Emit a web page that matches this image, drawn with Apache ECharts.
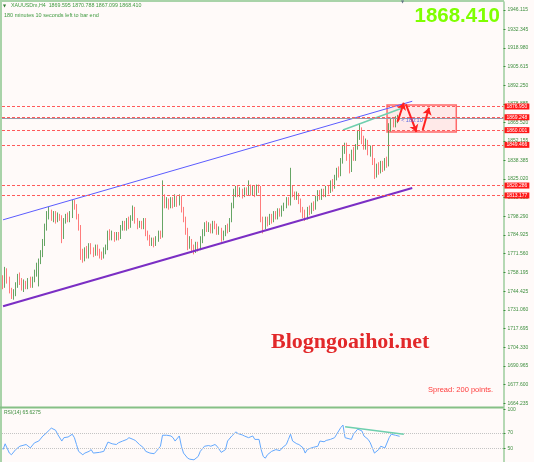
<!DOCTYPE html>
<html><head><meta charset="utf-8">
<script src="https://cdn.jsdelivr.net/npm/echarts@6/dist/echarts.min.js"></script>
<style>html,body{margin:0;padding:0;background:#fffaf9;}#c{width:534px;height:462px;}</style>
</head><body><div id="c"></div>
<script>
// ---- DATA (XAUUSDm, H4) ----
const opens = [1752,1749,1758,1753,1745,1741,1743,1749,1755,1752,
1747,1750,1748,1752,1749,1753,1758,1762,1766,1771,
1779,1790,1799,1801,1797,1800,1796,1799,1797,1784,
1795,1798,1796,1799,1807,1805,1798,1790,1772,1768,
1774,1770,1777,1774,1772,1776,1773,1771,1769,1774,
1776,1786,1783,1786,1782,1785,1783,1790,1793,1790,
1795,1792,1797,1803,1795,1791,1793,1791,1796,1786,
1783,1779,1781,1778,1782,1786,1784,1810,1806,1809,
1806,1810,1806,1811,1808,1812,1803,1796,1788,1777,
1780,1775,1773,1778,1776,1782,1786,1792,1789,1791,
1788,1793,1791,1787,1789,1782,1786,1790,1788,1795,
1806,1815,1818,1814,1816,1813,1817,1815,1819,1815,
1818,1814,1819,1817,1796,1792,1796,1793,1798,1796,
1800,1798,1802,1800,1804,1806,1810,1808,1818,1814,
1812,1814,1809,1803,1800,1798,1803,1801,1806,1804,
1811,1815,1812,1816,1814,1818,1816,1822,1819,1826,
1831,1829,1838,1846,1849,1841,1832,1844,1840,1848,
1856,1858,1853,1849,1851,1845,1847,1838,1828,1834,
1831,1836,1833,1838,1836,1862,1866,1864,1867,1869.595];
const closes = [1749,1758,1753,1745,1741,1743,1749,1755,1752,1747,
1750,1748,1752,1749,1753,1758,1762,1766,1771,1779,
1790,1799,1801,1797,1800,1796,1799,1797,1784,1795,
1798,1796,1799,1807,1805,1798,1790,1772,1768,1774,
1770,1777,1774,1772,1776,1773,1771,1769,1774,1776,
1786,1783,1786,1782,1785,1783,1790,1793,1790,1795,
1792,1797,1803,1795,1791,1793,1791,1796,1786,1783,
1779,1781,1778,1782,1786,1784,1810,1806,1809,1806,
1810,1806,1811,1808,1812,1803,1796,1788,1777,1780,
1775,1773,1778,1776,1782,1786,1792,1789,1791,1788,
1793,1791,1787,1789,1782,1786,1790,1788,1795,1806,
1815,1818,1814,1816,1813,1817,1815,1819,1815,1818,
1814,1819,1817,1796,1792,1796,1793,1798,1796,1800,
1798,1802,1800,1804,1806,1810,1808,1818,1814,1812,
1814,1809,1803,1800,1798,1803,1801,1806,1804,1811,
1815,1812,1816,1814,1818,1816,1822,1819,1826,1831,
1829,1838,1846,1849,1841,1832,1844,1840,1848,1856,
1858,1853,1849,1851,1845,1847,1838,1828,1834,1831,
1836,1833,1838,1836,1862,1866,1864,1867,1869.6,1868.41];
const lows = [1746,1747,1750,1743,1739,1738.5,1741,1747,1749,1745,
1744,1746,1746,1747,1747,1751,1755,1748,1764,1769,
1777,1788,1796,1795,1794,1793,1794,1795,1779,1782,
1793,1794,1794,1797,1803,1796,1788,1767,1765,1766,
1768,1768,1771,1769,1770,1770,1768,1767,1768,1771,
1774,1781,1781,1780,1781,1781,1782,1788,1788,1788,
1789,1790,1795,1793,1789,1790,1789,1789,1784,1781,
1777,1777,1776,1777,1780,1782,1783,1804,1804,1803,
1804,1804,1805,1805,1806,1801,1794,1785,1774,1775,
1772,1771,1772,1773,1774,1779,1784,1787,1787,1786,
1786,1789,1785,1785,1780,1781,1784,1786,1787,1794,
1804,1812,1812,1812,1811,1812,1813,1813,1813,1813,
1812,1813,1815,1794,1786,1789,1791,1792,1793,1794,
1796,1796,1798,1798,1802,1804,1806,1806,1812,1810,
1810,1807,1801,1797,1795,1796,1799,1800,1802,1803,
1809,1810,1810,1812,1812,1814,1815,1816,1818,1824,
1826,1827,1836,1843,1838,1829,1830,1838,1838,1846,
1853,1850,1846,1846,1842,1841,1835,1825,1826,1828,
1829,1830,1831,1833,1834,1859,1862,1862,1865,1867.099];
const highs = [1756,1762,1761,1755,1747,1746,1751,1757,1758,1754,
1753,1752,1754,1755,1755,1760,1765,1768,1774,1782,
1793,1802,1805,1803,1802,1802,1801,1800,1799,1797,
1800,1801,1802,1810,1810,1807,1800,1792,1775,1776,
1777,1779,1779,1776,1778,1778,1775,1773,1776,1778,
1788,1789,1788,1787,1787,1787,1792,1795,1795,1797,
1798,1799,1806,1805,1797,1795,1795,1797,1797,1788,
1785,1783,1783,1784,1788,1788,1824,1814,1812,1811,
1812,1812,1814,1813,1814,1813,1805,1798,1790,1784,
1782,1778,1780,1780,1784,1789,1794,1795,1794,1793,
1795,1795,1793,1791,1790,1788,1792,1793,1797,1808,
1818,1820,1820,1819,1818,1819,1819,1824,1821,1820,
1820,1821,1821,1820,1798,1798,1798,1800,1800,1802,
1802,1804,1804,1806,1808,1812,1812,1833,1820,1816,
1816,1815,1811,1805,1803,1805,1806,1808,1809,1813,
1817,1817,1818,1818,1820,1820,1824,1825,1828,1833,
1834,1840,1849,1851,1851,1843,1846,1848,1850,1860,
1865,1862,1856,1854,1853,1849,1849,1840,1836,1837,
1838,1838,1840,1841,1865,1869,1869,1870,1871,1870.788];

// RSI(14) read at bar indices
const rsiBar = [0,1,3,4,6,8,11,13,15,17,19,20,22,23,25,26,28,29,31,33,
34,35,36,38,39,41,42,43,46,48,50,52,54,55,57,59,60,62,63,65,
67,68,70,72,73,75,76,78,80,81,82,84,85,86,88,89,91,93,94,96,
98,99,101,102,104,106,107,109,111,112,114,115,117,119,120,122,123,124,125,126,
128,130,132,133,135,136,137,138,140,141,143,144,145,146,148,150,151,153,154,156,
158,159,161,162,163,166,167,169,171,172,174,175,177,179,180,182,184,185,187,189];
const rsiVal = [48.7,56.1,44.3,42.2,48.7,53,55.2,50.9,57.4,59.6,66.1,68.3,73.5,76.1,73.5,68.3,59.6,63.9,64.8,68.3,
63.9,55.2,46.5,42.2,44.3,46.5,48.7,44.3,45.2,46.5,58.3,56.1,55.2,57.4,59.6,61.7,63.9,61.7,60.4,55.2,
50.9,46.5,44.3,43.5,46.5,53,67,67,66.1,63.9,59.6,66.1,53,44.3,37.8,36.5,35.7,40,46.5,53,
53.9,53,55.2,53,45.2,48.7,59.6,66.1,71.3,69.1,67.4,66.1,63.9,66.1,61.7,61.7,48.7,40,37.8,42.2,
46.5,48.7,47.4,50.9,55.2,61.7,68.3,59.6,56.1,55.2,50.9,44.3,48.7,50,51.7,53,59.6,58.7,60.4,61.7,
63.9,68.3,77,80,63.9,61.7,68.3,74.8,72.6,66.1,61.7,57.4,44.3,48.7,53,50.9,63.9,68.3,67,65.63];

const priceTickLabels = ['1664.235','1677.600','1690.965','1704.330','1717.695','1731.060','1744.425','1758.195','1771.560','1784.925','1798.290','1811.655','1825.020','1838.385','1852.155','1865.520','1878.885','1892.250','1905.615','1918.980','1932.345','1946.115'];
const rsiTickLabels = ['50','70','100'];
const levelLines = [1876.950, 1869.248, 1860.001, 1849.466, 1820.286, 1813.177];
const bidPrice = 1868.41;
// channel / trend lines: [barIndex, price]
const upperChannel = [[0, 1795.75], [195, 1880.7]];
const lowerChannel = [[0, 1733.8], [195, 1818.5]];
const priceTrend = [[162, 1860.1], [190, 1875.7]];
const rsiTrend = [[163, 77.8], [191, 68.3]];
const zoneBox = [[183, 1878.0], [216, 1858.7]];
const arrowPaths = [[[188, 1866], [191, 1879.6]], [[192, 1878.4], [197, 1858.8]], [[200, 1860.1], [203, 1876.0]]];

// ---- CHART ----
const SLOTS = 239;
const slots = Array.from({length: SLOTS}, (_, i) => 'b' + i);
const candleData = opens.map((o, i) => [o, closes[i], lows[i], highs[i]]);
const rsiData = rsiBar.map((b, k) => [b, rsiVal[k]]);
const priceTickVals = priceTickLabels.map(Number);
const rsiTickVals = rsiTickLabels.map(Number);
const FONT = 'Liberation Sans';
const axisGreen = '#3f8f3f';

const chart = echarts.init(document.getElementById('c'), null, {renderer: 'canvas', width: 534, height: 462});

const tagLabel = (v) => ({show: true, position: 'end', formatter: v.toFixed(3), color: '#fff', backgroundColor: '#ff1818',
  fontSize: 5, fontFamily: FONT, padding: [1, 2, 0, 2], distance: 1});

const option = {
  animation: false,
  backgroundColor: '#fffaf9',
  grid: [
    {left: 2, right: 30.5, top: 2, height: 405},
    {left: 2, right: 30.5, top: 408, height: 54}
  ],
  xAxis: [
    {type: 'category', data: slots, gridIndex: 0, show: false, boundaryGap: true},
    {type: 'category', data: slots, gridIndex: 1, show: false, boundaryGap: true}
  ],
  yAxis: [
    {type: 'value', gridIndex: 0, position: 'right', min: 1661.58, max: 1951.85, scale: true,
      axisLine: {show: true, lineStyle: {color: '#9ccc9c', width: 1.5}},
      axisTick: {show: true, length: 2, customValues: priceTickVals, lineStyle: {color: axisGreen}},
      axisLabel: {show: true, fontSize: 5, fontFamily: FONT, color: axisGreen, margin: 4, customValues: priceTickVals,
        formatter: (v) => { const k = priceTickVals.indexOf(v); return k >= 0 ? priceTickLabels[k] : v.toFixed(3); }},
      splitLine: {show: false}},
    {type: 'value', gridIndex: 1, position: 'right', min: 32.93, max: 101.7,
      axisLine: {show: true, lineStyle: {color: '#9ccc9c', width: 1.5}},
      axisTick: {show: true, length: 2, customValues: rsiTickVals, lineStyle: {color: axisGreen}},
      axisLabel: {show: true, fontSize: 5, fontFamily: FONT, color: axisGreen, margin: 4, customValues: rsiTickVals,
        formatter: (v) => { const k = rsiTickVals.indexOf(v); return k >= 0 ? rsiTickLabels[k] : String(v); }},
      splitLine: {show: false}}
  ],
  series: [
    {
      type: 'candlestick', name: 'XAUUSDm', xAxisIndex: 0, yAxisIndex: 0, data: candleData,
      barWidth: 1.2,
      itemStyle: {color: '#8fc98f', color0: '#ffa3a3', borderColor: '#3f8f3f', borderColor0: '#ff5c5c', borderWidth: 0.8},
      markLine: {
        silent: true, animation: false, symbol: ['none', 'none'], label: {show: false},
        data: [
          [{coord: upperChannel[0], lineStyle: {color: '#5c5cff', width: 1, type: 'solid'}}, {coord: upperChannel[1]}],
          [{coord: lowerChannel[0], lineStyle: {color: '#7b2ec4', width: 2, type: 'solid'}}, {coord: lowerChannel[1]}],
          [{coord: priceTrend[0], lineStyle: {color: '#6fcfae', width: 1.5, type: 'solid'}}, {coord: priceTrend[1]}],
          {yAxis: bidPrice, lineStyle: {color: '#9a9aa8', width: 1.2, type: 'solid'}, label: {show: false}},
          ...levelLines.map(v => ({yAxis: v, lineStyle: {color: '#ff5a5a', width: 1, type: [3, 2]}, label: tagLabel(v)}))
        ]
      },
      markArea: {
        silent: true,
        itemStyle: {color: 'rgba(255,175,175,0.22)', borderColor: '#ff6a6a', borderWidth: 1.5},
        data: [[{coord: zoneBox[0]}, {coord: zoneBox[1]}]]
      },
      markPoint: {
        silent: true, symbol: 'circle', symbolSize: 1, itemStyle: {color: 'rgba(0,0,0,0)'},
        data: [{coord: [189, 1866.6], label: {show: true, position: 'right', distance: 1, formatter: '< 180:10',
          color: '#5d6be0', fontSize: 5.5, fontFamily: FONT}}]
      }
    },
    {
      type: 'line', name: 'arrows', xAxisIndex: 0, yAxisIndex: 0, data: [],
      markLine: {
        silent: true, animation: false, symbol: ['none', 'arrow'], symbolSize: 7, label: {show: false},
        lineStyle: {color: '#ff2020', width: 2, type: 'solid'},
        data: arrowPaths.map(p => [{coord: p[0]}, {coord: p[1]}])
      }
    },
    {
      type: 'line', name: 'RSI(14)', xAxisIndex: 1, yAxisIndex: 1, data: rsiData, symbol: 'none',
      lineStyle: {color: '#64a9ff', width: 1},
      markLine: {
        silent: true, animation: false, symbol: ['none', 'none'], label: {show: false},
        data: [
          {yAxis: 70, lineStyle: {color: '#c4c4c4', width: 1, type: 'dotted'}},
          {yAxis: 50, lineStyle: {color: '#c4c4c4', width: 1, type: 'dotted'}},
          [{coord: rsiTrend[0], lineStyle: {color: '#6fcfae', width: 1.5, type: 'solid'}}, {coord: rsiTrend[1]}]
        ]
      }
    }
  ],
  graphic: [
    {type: 'line', silent: true, shape: {x1: 1, y1: 0, x2: 1, y2: 462}, style: {stroke: '#a9d3a9', lineWidth: 2}},
    {type: 'line', silent: true, shape: {x1: 0, y1: 1, x2: 504, y2: 1}, style: {stroke: '#a9d3a9', lineWidth: 2}},
    {type: 'line', silent: true, shape: {x1: 0, y1: 407.5, x2: 504, y2: 407.5}, style: {stroke: '#86c086', lineWidth: 2}},
    {type: 'text', left: 3, top: 4, style: {text: '▼', fontSize: 4, fontFamily: 'DejaVu Sans', fill: '#2f7a2f'}},
    {type: 'text', left: 401, top: 0, style: {text: '▼', fontSize: 4, fontFamily: 'DejaVu Sans', fill: '#667788'}},
    {type: 'text', left: 11, top: 3, style: {text: 'XAUUSDm,H4  1869.595 1870.788 1867.099 1868.410', fontSize: 5.3, fontFamily: FONT, fill: '#3f9a3f'}},
    {type: 'text', left: 4, top: 12, style: {text: '180 minutes 10 seconds left to bar end', fontSize: 5.5, fontFamily: FONT, fill: '#3f9a3f'}},
    {type: 'text', right: 34, top: 6, style: {text: '1868.410', fontSize: 20.5, fontWeight: 'bold', fontFamily: FONT, fill: '#7fff00'}},
    {type: 'text', left: 428, top: 386, style: {text: 'Spread: 200 points.', fontSize: 7.5, fontFamily: FONT, fill: '#ff3b3b'}},
    {type: 'text', left: 271, top: 331, style: {text: 'Blogngoaihoi.net', fontSize: 22, fontWeight: 'bold', fontFamily: 'Liberation Serif', fill: '#e2282a'}},
    {type: 'text', left: 4, top: 410, style: {text: 'RSI(14) 65.6275', fontSize: 5, fontFamily: FONT, fill: '#3f8f3f'}}
  ]
};
chart.setOption(option);
</script>
</body></html>
